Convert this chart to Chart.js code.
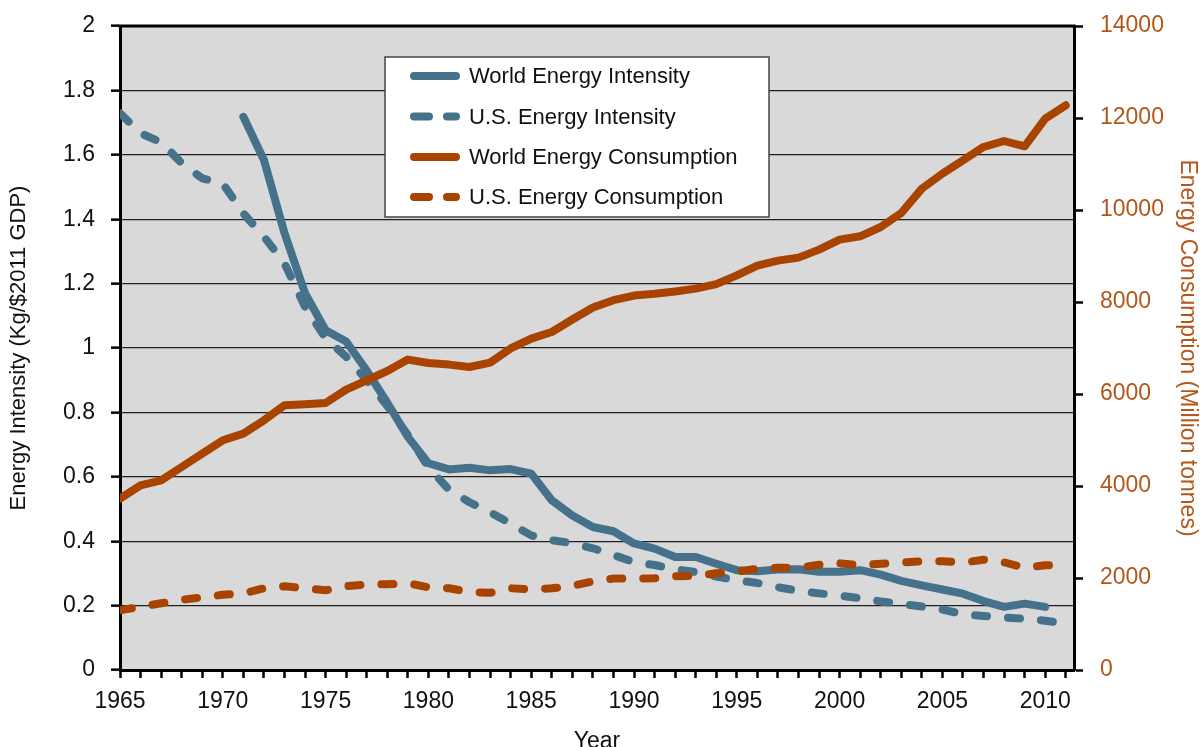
<!DOCTYPE html>
<html>
<head>
<meta charset="utf-8">
<title>Energy Intensity and Energy Consumption</title>
<script src="https://cdn.jsdelivr.net/npm/chart.js@4/dist/chart.umd.min.js"></script>
<style>
  html, body { margin: 0; padding: 0; background: #fff; }
  #wrap { width: 1201px; height: 747px; }
</style>
</head>
<body>
<div id="wrap"><canvas id="chart" width="1201" height="747"></canvas></div>
<script>
// Energy intensity (left axis) vs energy consumption (right axis), 1965-2011

var years = [];
for (var yr = 1965; yr <= 2011; yr++) { years.push(yr); }

// Kg / $2011 GDP
var worldIntensity = [
  null, null, null, null, null, null,
  1.718, 1.584, 1.357, 1.170, 1.055, 1.020, 0.930, 0.830, 0.724, 0.642,
  0.623, 0.628, 0.620, 0.624, 0.610, 0.527, 0.480, 0.444, 0.431, 0.393,
  0.377, 0.351, 0.351, 0.330, 0.310, 0.307, 0.312, 0.313, 0.305, 0.305,
  0.310, 0.296, 0.277, 0.263, 0.250, 0.237, 0.214, 0.196, 0.206, 0.196,
  null
];
var usIntensity = [
  1.729, 1.667, 1.639, 1.574, 1.527, 1.511, 1.418, 1.346, 1.263, 1.128,
  1.030, 0.973, 0.900, 0.820, 0.730, 0.630, 0.560, 0.521, 0.490, 0.455,
  0.418, 0.403, 0.394, 0.378, 0.357, 0.335, 0.326, 0.313, 0.304, 0.290,
  0.279, 0.270, 0.257, 0.246, 0.238, 0.231, 0.223, 0.213, 0.205, 0.197,
  0.188, 0.173, 0.168, 0.163, 0.159, 0.153, 0.145
];

// Million tonnes
var worldConsumption = [
  3726, 4015, 4124, 4413, 4704, 4993, 5139, 5428, 5754, 5776,
  5804, 6096, 6298, 6500, 6748, 6674, 6639, 6587, 6683, 6990,
  7204, 7348, 7620, 7880, 8040, 8140, 8180, 8230, 8290, 8390,
  8580, 8790, 8900, 8965, 9139, 9356, 9428, 9630, 9935, 10465,
  10791, 11080, 11370, 11500, 11385, 11987, 12276
];
var usConsumption = [
  1298, 1374, 1450, 1526, 1580, 1635, 1667, 1776, 1820, 1776,
  1733, 1820, 1863, 1863, 1885, 1798, 1776, 1696, 1678, 1776,
  1754, 1776, 1830, 1928, 1987, 1987, 1993, 2037, 2048, 2102,
  2135, 2200, 2222, 2226, 2287, 2320, 2276, 2309, 2335, 2363,
  2363, 2335, 2396, 2341, 2222, 2276, 2276
];

var seriesLabels = [
  'World Energy Intensity',
  'U.S. Energy Intensity',
  'World Energy Consumption',
  'U.S. Energy Consumption'
];

var BLUE   = '#45728a';
var ORANGE = '#a94300';
var ORANGE_TEXT = '#b3561a';
var DASH   = [12, 21];

function toPoints(values) {
  return years.map(function(y, i) { return { x: y, y: values[i] }; });
}

function lineDataset(label, values, color, dashed, axis, order) {
  return {
    label: label,
    data: toPoints(values),
    borderColor: color,
    backgroundColor: color,
    borderWidth: 8,
    borderDash: dashed ? DASH : [],
    borderCapStyle: 'round',
    borderJoinStyle: 'round',
    pointRadius: 0,
    tension: 0,
    yAxisID: axis,
    order: order
  };
}

// Fixed box sizes so the plot area lands where the original has it
function fixWidth(w) {
  return function(s) { s.width = w; s.paddingTop = 0; s.paddingBottom = 0; };
}

// Grey plot background + top frame line
var plotFrame = {
  id: 'plotFrame',
  beforeDraw: function(chart) {
    var a = chart.chartArea, ctx = chart.ctx;
    ctx.save();
    ctx.fillStyle = '#d9d9d9';
    ctx.fillRect(a.left, a.top, a.right - a.left, a.bottom - a.top);
    ctx.restore();
  },
  afterDraw: function(chart) {
    var a = chart.chartArea, ctx = chart.ctx;
    ctx.save();
    ctx.strokeStyle = '#000';
    ctx.lineWidth = 3;
    ctx.beginPath();
    ctx.moveTo(a.left - 1.5, a.top);
    ctx.lineTo(a.right + 1.5, a.top);
    ctx.stroke();
    ctx.restore();
  }
};

// Boxed legend inside the plot area
var boxLegend = {
  id: 'boxLegend',
  afterDraw: function(chart) {
    var ctx = chart.ctx;
    var box = { x: 385, y: 57, w: 384, h: 160 };
    var rows = [76, 116.5, 157, 197];
    ctx.save();
    ctx.fillStyle = '#fff';
    ctx.fillRect(box.x, box.y, box.w, box.h);
    ctx.strokeStyle = '#444';
    ctx.lineWidth = 1.5;
    ctx.strokeRect(box.x, box.y, box.w, box.h);

    chart.data.datasets.forEach(function(ds, i) {
      var y = rows[i];
      ctx.strokeStyle = ds.borderColor;
      ctx.lineWidth = 8;
      ctx.lineCap = 'round';
      ctx.setLineDash(ds.borderDash.length ? [15, 18] : []);
      ctx.beginPath();
      ctx.moveTo(414, y);
      ctx.lineTo(456, y);
      ctx.stroke();
      ctx.setLineDash([]);
      ctx.fillStyle = '#111';
      ctx.font = '22px "Liberation Sans", Arial, sans-serif';
      ctx.textBaseline = 'middle';
      ctx.textAlign = 'left';
      ctx.fillText(ds.label, 469, y + 1);
    });
    ctx.restore();
  }
};

Chart.defaults.font.family = '"Liberation Sans", Arial, sans-serif';
Chart.defaults.color = '#111';

new Chart(document.getElementById('chart'), {
  type: 'line',
  data: {
    datasets: [
      lineDataset(seriesLabels[0], worldIntensity, BLUE, false, 'y', 1),
      lineDataset(seriesLabels[1], usIntensity, BLUE, true, 'y', 1),
      lineDataset(seriesLabels[2], worldConsumption, ORANGE, false, 'y1', 0),
      lineDataset(seriesLabels[3], usConsumption, ORANGE, true, 'y1', 0)
    ]
  },
  options: {
    responsive: false,
    animation: false,
    layout: { padding: { top: 26, left: 0, right: 0, bottom: 0 } },
    plugins: {
      legend: { display: false },
      tooltip: { enabled: false }
    },
    scales: {
      x: {
        type: 'linear',
        min: 1965,
        max: 2011.4,
        afterFit: function(s) { s.height = 77; s.paddingLeft = 0; s.paddingRight = 0; },
        border: { display: true, color: '#000', width: 3 },
        grid: {
          drawOnChartArea: false,
          drawTicks: true,
          tickLength: 8,
          tickColor: '#000',
          tickWidth: 2.5
        },
        ticks: {
          stepSize: 1,
          autoSkip: false,
          includeBounds: false,
          maxRotation: 0,
          padding: 10,
          color: '#111',
          font: { size: 23 },
          callback: function(v) { return v % 5 === 0 ? String(v) : ''; }
        },
        title: {
          display: true,
          text: 'Year',
          color: '#111',
          font: { size: 23 },
          padding: { top: 0, bottom: -8 }
        }
      },
      y: {
        position: 'left',
        min: 0,
        max: 2,
        afterFit: fixWidth(120),
        border: { display: true, color: '#000', width: 3 },
        grid: {
          color: '#1f1f1f',
          lineWidth: 1.3,
          tickLength: 9,
          tickColor: '#000',
          tickWidth: 2.5
        },
        ticks: {
          stepSize: 0.2,
          padding: 16,
          color: '#111',
          font: { size: 23 },
          callback: function(v) { return String(Math.round(v * 10) / 10); }
        },
        title: {
          display: true,
          text: 'Energy Intensity (Kg/$2011 GDP)',
          color: '#111',
          font: { size: 22 },
          padding: { top: 6, bottom: 0 }
        }
      },
      y1: {
        position: 'right',
        min: 0,
        max: 14000,
        afterFit: fixWidth(127),
        border: { display: true, color: '#000', width: 3 },
        grid: {
          drawOnChartArea: false,
          tickLength: 9,
          tickColor: '#000',
          tickWidth: 2.5
        },
        ticks: {
          stepSize: 2000,
          padding: 17,
          color: ORANGE_TEXT,
          font: { size: 23 },
          callback: function(v) { return String(v); }
        },
        title: {
          display: true,
          text: 'Energy Consumption (Million tonnes)',
          color: ORANGE_TEXT,
          font: { size: 23 },
          padding: { top: 0, bottom: 0 }
        }
      }
    }
  },
  plugins: [plotFrame, boxLegend]
});
</script>
</body>
</html>
